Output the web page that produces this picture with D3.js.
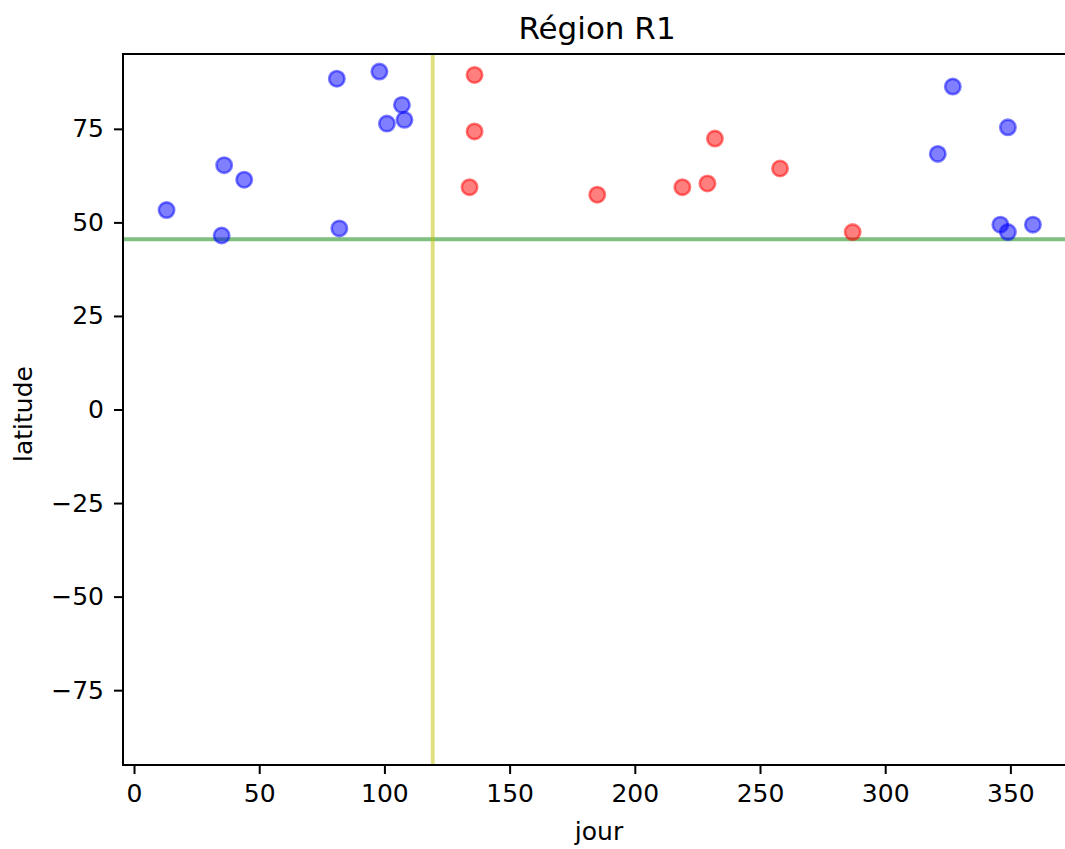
<!DOCTYPE html>
<html>
<head>
<meta charset="utf-8">
<script src="https://cdn.jsdelivr.net/npm/d3@7"></script>
<style>
	body { margin: 0; background: #fff; }
	svg text { font-family: "DejaVu Sans", sans-serif; fill: #000; }
</style>
</head>
<body>
<div id="viz"><svg width="1065" height="849"></svg></div>
<script>
// days + latitudes
const blueDays = [13, 36, 44, 35, 81, 98, 107, 101, 108, 82, 327, 349, 321, 346, 349, 359];
const blueLats = [53.3, 65.3, 61.4, 46.5, 88.4, 90.3, 81.4, 76.4, 77.4, 48.4, 86.3, 75.4, 68.3, 49.4, 47.4, 49.4];
const redDays = [136, 136, 134, 185, 232, 219, 229, 258, 287];
const redLats = [89.4, 74.3, 59.4, 57.4, 72.4, 59.4, 60.4, 64.4, 47.4];

const xTicks = [0, 50, 100, 150, 200, 250, 300, 350];
const yTicks = [-75, -50, -25, 0, 25, 50, 75];
const dayCut = 119.3;
const latCut = 45.5;

const svg = d3.select('#viz svg');

const x = d3.scaleLinear().domain([-4.4, 376]).range([123, 1075.5]);
const y = d3.scaleLinear().domain([-95, 95]).range([765, 54]);

const plot = svg.append('g');

// reference lines
plot.append('line')
	.attr('x1', x.range()[0]).attr('x2', x.range()[1])
	.attr('y1', y(latCut)).attr('y2', y(latCut))
	.attr('stroke', 'rgba(0,128,0,0.5)')
	.attr('stroke-width', 3.9);

plot.append('line')
	.attr('x1', x(dayCut)).attr('x2', x(dayCut))
	.attr('y1', y.range()[0]).attr('y2', y.range()[1])
	.attr('stroke', 'rgba(191,191,0,0.5)')
	.attr('stroke-width', 3.9);

function dots(days, lats, col) {
	plot.append('g')
		.selectAll('circle')
		.data(days)
		.enter()
			.append('circle')
			.attr('cx', d => x(d))
			.attr('cy', (d, i) => y(lats[i]))
			.attr('r', 7.7)
			.attr('fill', col)
			.attr('stroke', col)
			.attr('stroke-width', 2.6);
}

dots(blueDays, blueLats, 'rgba(0,0,255,0.5)');
dots(redDays, redLats, 'rgba(255,0,0,0.5)');

// axes
const xAxis = svg.append('g')
	.attr('transform', `translate(0,${y.range()[0]})`)
	.call(d3.axisBottom(x).tickValues(xTicks).tickSize(9).tickPadding(10));
const yAxis = svg.append('g')
	.attr('transform', `translate(${x.range()[0]},0)`)
	.call(d3.axisLeft(y).tickValues(yTicks).tickSize(9).tickPadding(10));

[xAxis, yAxis].forEach(a => {
	a.selectAll('text').style('font-size', '25px').attr('fill', '#000');
	a.selectAll('line').attr('stroke', '#000').attr('stroke-width', 2);
	a.select('.domain').remove();
});

// frame
svg.append('rect')
	.attr('x', x.range()[0]).attr('y', y.range()[1])
	.attr('width', x.range()[1] - x.range()[0])
	.attr('height', y.range()[0] - y.range()[1])
	.attr('fill', 'none')
	.attr('stroke', '#000')
	.attr('stroke-width', 2);

svg.append('text')
	.attr('x', 597).attr('y', 39)
	.attr('text-anchor', 'middle')
	.style('font-size', '31px')
	.text('Région R1');

svg.append('text')
	.attr('x', 599).attr('y', 840)
	.attr('text-anchor', 'middle')
	.style('font-size', '25px')
	.text('jour');

svg.append('text')
	.attr('transform', 'translate(32,414) rotate(-90)')
	.attr('text-anchor', 'middle')
	.style('font-size', '25px')
	.text('latitude');
</script>
</body>
</html>
